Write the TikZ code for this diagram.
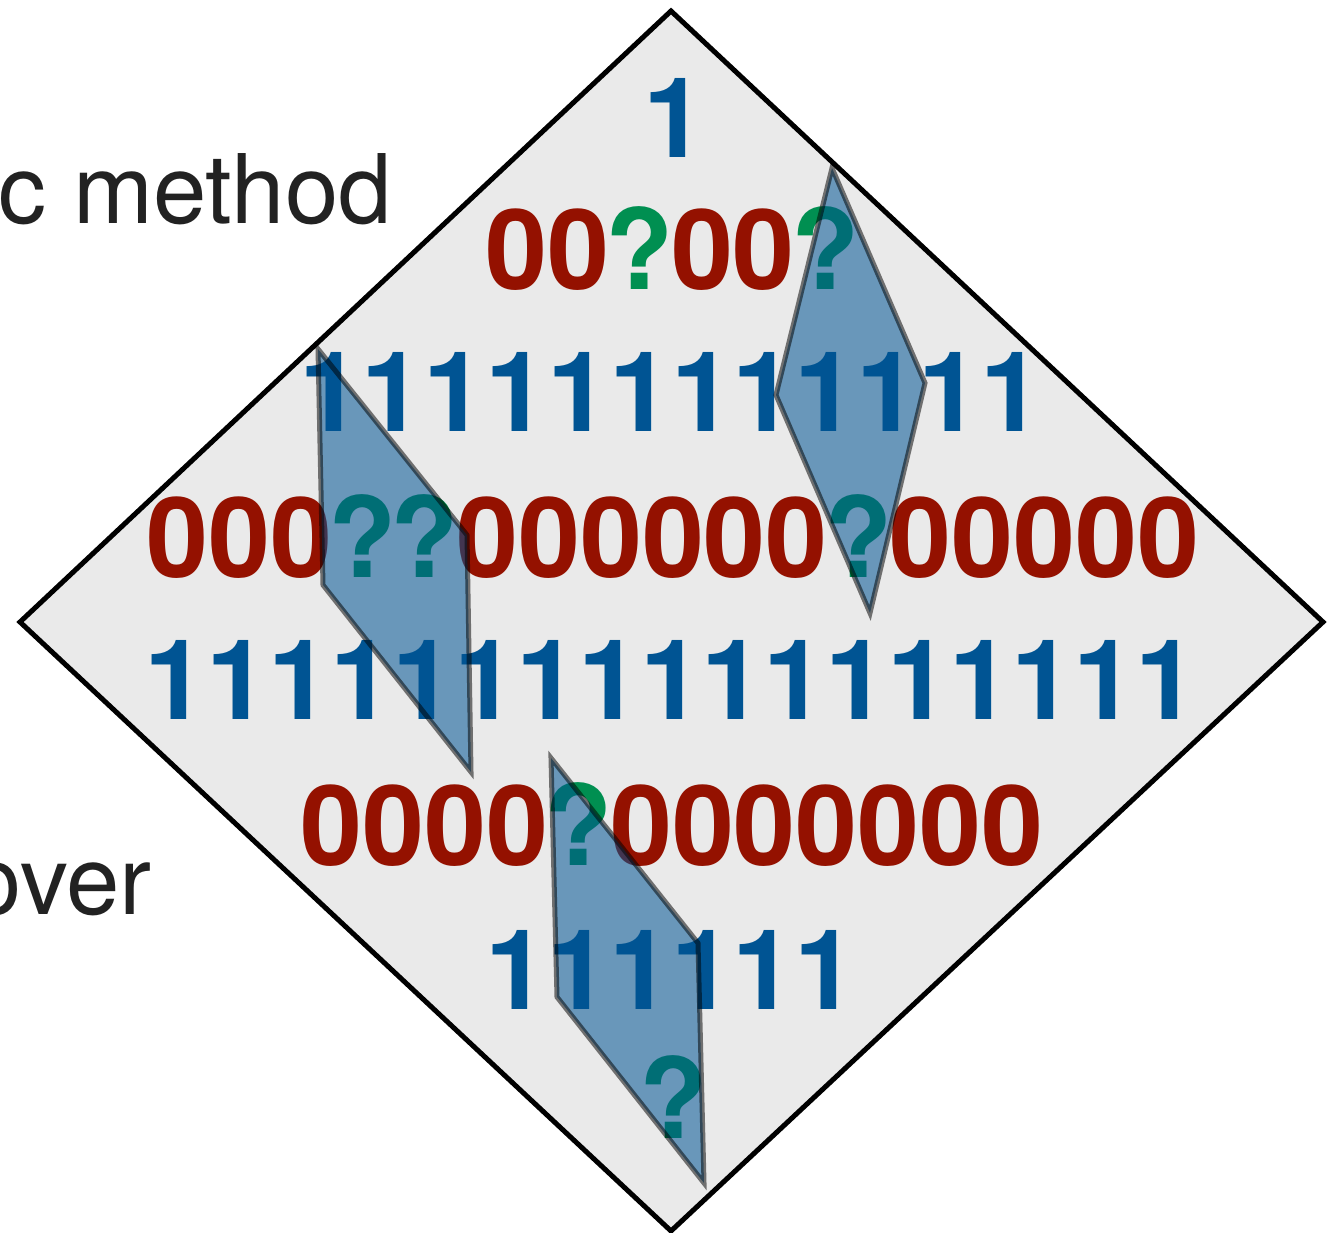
\documentclass[tikz,border=0pt]{standalone}
\usepackage{fontspec}
\setmainfont{TeX Gyre Heros}
\definecolor{ocean}{HTML}{005493}
\definecolor{cayenne}{HTML}{941100}
\definecolor{clover}{HTML}{008F51}
\definecolor{panel}{HTML}{EAEAEA}
\definecolor{inkgray}{HTML}{222222}
% a question mark set on the digit grid
\newcommand{\qm}{\textcolor{clover}{\makebox[0.556em]{?}}}
\newcommand{\zr}[1]{\textcolor{cayenne}{#1}}
\newcommand{\on}[1]{\textcolor{ocean}{#1}}
\begin{document}
\begin{tikzpicture}[x=1pt,y=-1pt,
  sidelabel/.style={anchor=base east,inner sep=0pt,text=inkgray,
    font=\fontsize{96}{96}\selectfont},
  board/.style={fill=panel,draw=black,line width=5pt,line join=miter},
  bitrow/.style={anchor=base,inner sep=0pt,
    font=\fontsize{111.5}{111.5}\selectfont\bfseries},
  window/.style={fill=ocean,fill opacity=0.55,draw=black,draw opacity=0.52,
    line width=5pt,line join=miter}]
\useasboundingbox (0,0) rectangle (1339,1232);
\begin{scope}
\clip (0,0) rectangle (1339,1232);
% labels on the left
\node[sidelabel] (lblmethod) at (392,223) {c method};
\node[sidelabel] (lblover) at (152,914) {over};
% diamond board
\draw[board] (671,11) -- (1323,622) -- (671,1231) -- (20,622) -- cycle;
% rows of bits
\node[bitrow] (r1) at (674,157) {\on{1}};
\node[bitrow] (r2) at (671,289) {\zr{00}\qm\zr{00}\qm};
\node[bitrow] (r3) at (671,431) {\on{111111111111}};
\node[bitrow] (r4) at (673,577) {\zr{000}\qm\qm\zr{000000}\qm\zr{00000}};
\node[bitrow] (r5) at (671,719) {\on{11111111111111111}};
\node[bitrow] (r6) at (672,865) {\zr{0000}\qm\zr{0000000}};
\node[bitrow] (r7) at (671,1009) {\on{111111}};
\node[bitrow] (r8) at (674,1138) {\qm};
% translucent windows
\draw[window] (318,349) -- (323,585) -- (471,772) -- (467,535) -- cycle;
\draw[window] (832,168) -- (925,383) -- (870,613) -- (776,395) -- cycle;
\draw[window] (551,758) -- (557,997) -- (704,1183) -- (698,943) -- cycle;
\end{scope}
\end{tikzpicture}
\end{document}
